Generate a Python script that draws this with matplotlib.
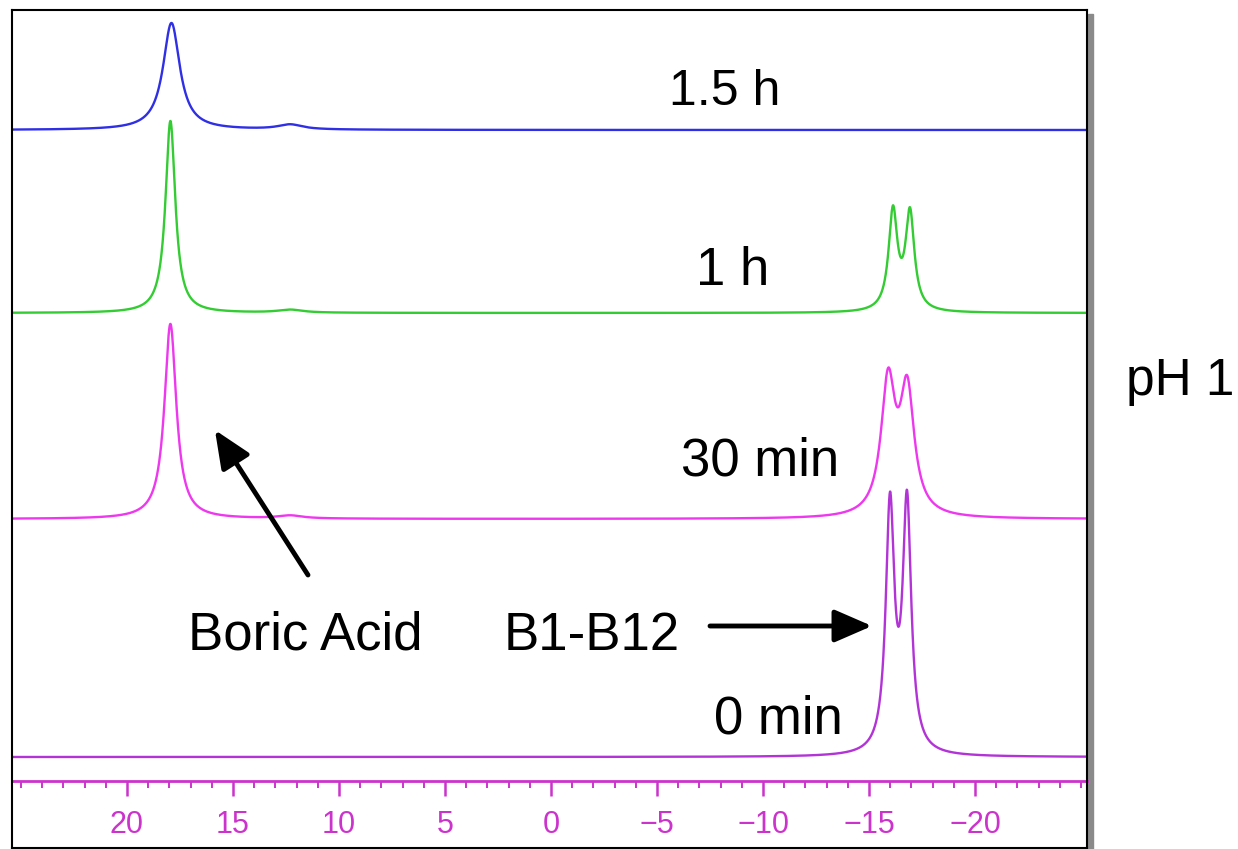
import numpy as np
import matplotlib
matplotlib.use("Agg")
import matplotlib.pyplot as plt
from matplotlib.patches import Rectangle

plt.rcParams['font.family'] = ['Liberation Sans', 'DejaVu Sans']

# ---- data ----
trace_labels = ["0 min", "30 min", "1 h", "1.5 h"]
trace_colors = ["#b233d6", "#ee38ee", "#33cc33", "#2f2fe6"]
trace_offsets = [91, 329, 535, 718]
# peaks per trace: centre (ppm), height, half width (ppm)
peak_centres = [[-15.99, -16.79],
                [17.95, 12.3, -15.9, -16.8],
                [17.95, 12.3, -16.13, -16.93],
                [17.9, 12.3]]
peak_heights = [[245, 247],
                [195, 3, 131, 122],
                [192, 3, 99, 97],
                [107, 5]]
peak_widths = [[0.24, 0.24],
               [0.34, 0.7, 0.4, 0.4],
               [0.28, 0.7, 0.25, 0.25],
               [0.48, 0.7]]
tick_values = [20, 15, 10, 5, 0, -5, -10, -15, -20]
tick_labels = ["20", "15", "10", "5", "0", "\u22125", "\u221210", "\u221215", "\u221220"]

W, H = 1238, 849
fig = plt.figure(figsize=(W / 100, H / 100), dpi=100)
x0, x1, yt, yb = 12, 1087, 10, 848
ax = fig.add_axes([x0 / W, (H - yb) / H, (x1 - x0) / W, (yb - yt) / H])
ax.set_xlim(25.42, -25.28)
ax.set_ylim(0, yb - yt)

ppm = np.linspace(25.42, -25.28, 5000)
for centres, heights, widths, off, col in zip(peak_centres, peak_heights, peak_widths,
                                             trace_offsets, trace_colors):
    y = np.zeros_like(ppm)
    for c, h, w in zip(centres, heights, widths):
        y += h * w**2 / ((ppm - c)**2 + w**2)
    ax.plot(ppm, y + off, color=col, lw=1.7)

for s in ax.spines.values():
    s.set_color("black")
    s.set_linewidth(1.5)
ax.set_yticks([])
ax.set_xticks([])

# ruler
sec = ax.secondary_xaxis(67 / (yb - yt))
sec.spines['bottom'].set_color("#cc33cc")
sec.spines['bottom'].set_linewidth(2)
sec.set_xticks(tick_values)
sec.set_xticklabels(tick_labels)
sec.set_xticks(np.arange(-25, 26, 1), minor=True)
sec.tick_params(axis='x', which='major', direction='out', length=11, width=1.8,
                color="#cc33cc", labelcolor="#cc33cc", labelsize=22, pad=10)
sec.tick_params(axis='x', which='minor', direction='out', length=5, width=1.4,
                color="#cc33cc")

# labels
fs = 38
ax.text(-8.21, 743, "1.5 h", fontsize=36, ha='center', va='baseline')
ax.text(-8.58, 563, "1 h", fontsize=fs, ha='center', va='baseline')
ax.text(-9.86, 373, "30 min", fontsize=fs, ha='center', va='baseline')
ax.text(-10.71, 115, "0 min", fontsize=fs, ha='center', va='baseline')
ax.text(11.6, 198, "Boric Acid", fontsize=fs, ha='center', va='baseline')
ax.text(-1.93, 198, "B1-B12", fontsize=fs, ha='center', va='baseline')
fig.text(1234 / W, 1 - 395 / H, "pH 1", fontsize=37, ha='right', va='baseline')

arrow_kw = dict(arrowstyle="-|>,head_length=2.3,head_width=1.0", color="black", lw=3.5,
                shrinkA=0, shrinkB=0)
ax.annotate("", xy=(15.85, 418), xytext=(11.46, 273), arrowprops=arrow_kw)
ax.annotate("", xy=(-15.14, 222), xytext=(-7.5, 222), arrowprops=arrow_kw)

# shadow on right edge
fig.patches.append(Rectangle((1088 / W, 0), 5 / W, (H - 14) / H, transform=fig.transFigure,
                             color="#8a8a8a", zorder=-1))

fig.savefig("out.png", dpi=100)
